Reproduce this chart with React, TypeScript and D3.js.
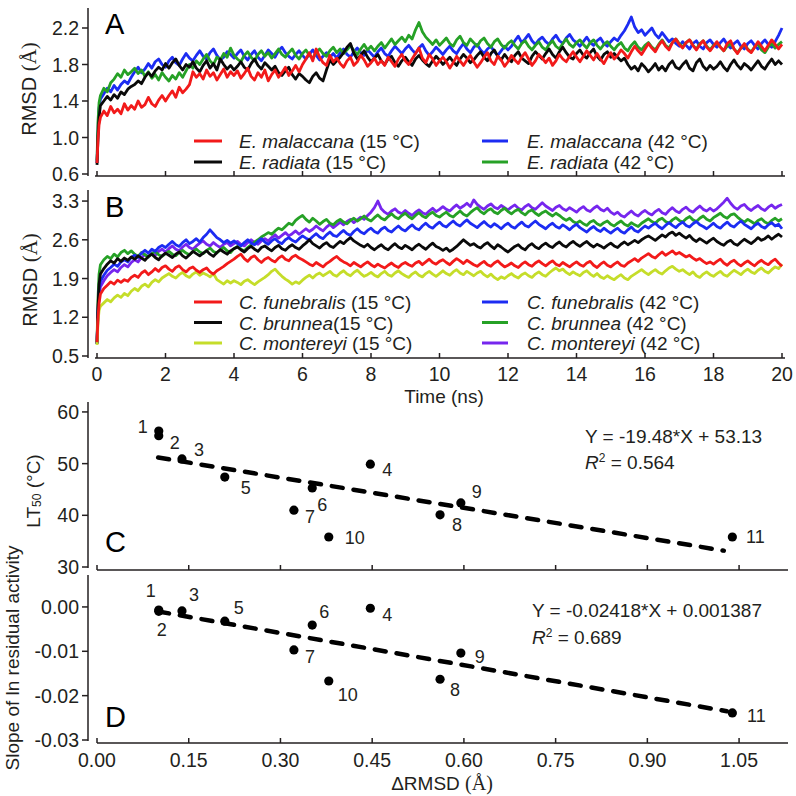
import React from 'react';
import * as d3 from 'd3';

// ---------- DATA ----------
const TIME = [0, 0.03, 0.06,
  0.1, 0.2, 0.3, 0.4, 0.5, 0.6, 0.7, 0.8, 0.9, 1.0,
  1.1, 1.2, 1.3, 1.4, 1.5, 1.6, 1.7, 1.8, 1.9, 2.0,
  2.1, 2.2, 2.3, 2.4, 2.5, 2.6, 2.7, 2.8, 2.9, 3.0,
  3.1, 3.2, 3.3, 3.4, 3.5, 3.6, 3.7, 3.8, 3.9, 4.0,
  4.1, 4.2, 4.3, 4.4, 4.5, 4.6, 4.7, 4.8, 4.9, 5.0,
  5.1, 5.2, 5.3, 5.4, 5.5, 5.6, 5.7, 5.8, 5.9, 6.0,
  6.1, 6.2, 6.3, 6.4, 6.5, 6.6, 6.7, 6.8, 6.9, 7.0,
  7.1, 7.2, 7.3, 7.4, 7.5, 7.6, 7.7, 7.8, 7.9, 8.0,
  8.1, 8.2, 8.3, 8.4, 8.5, 8.6, 8.7, 8.8, 8.9, 9.0,
  9.1, 9.2, 9.3, 9.4, 9.5, 9.6, 9.7, 9.8, 9.9, 10.0,
  10.1, 10.2, 10.3, 10.4, 10.5, 10.6, 10.7, 10.8, 10.9, 11.0,
  11.1, 11.2, 11.3, 11.4, 11.5, 11.6, 11.7, 11.8, 11.9, 12.0,
  12.1, 12.2, 12.3, 12.4, 12.5, 12.6, 12.7, 12.8, 12.9, 13.0,
  13.1, 13.2, 13.3, 13.4, 13.5, 13.6, 13.7, 13.8, 13.9, 14.0,
  14.1, 14.2, 14.3, 14.4, 14.5, 14.6, 14.7, 14.8, 14.9, 15.0,
  15.1, 15.2, 15.3, 15.4, 15.5, 15.6, 15.7, 15.8, 15.9, 16.0,
  16.1, 16.2, 16.3, 16.4, 16.5, 16.6, 16.7, 16.8, 16.9, 17.0,
  17.1, 17.2, 17.3, 17.4, 17.5, 17.6, 17.7, 17.8, 17.9, 18.0,
  18.1, 18.2, 18.3, 18.4, 18.5, 18.6, 18.7, 18.8, 18.9, 19.0,
  19.1, 19.2, 19.3, 19.4, 19.5, 19.6, 19.7, 19.8, 19.9, 20.0];

// Panel A
const A_MALACCANA_15 = [0.72, 0.98, 1.14,
  1.22, 1.29, 1.24, 1.34, 1.27, 1.31, 1.26, 1.37, 1.30, 1.35,
  1.31, 1.40, 1.33, 1.36, 1.44, 1.37, 1.34, 1.41, 1.46, 1.40,
  1.46, 1.51, 1.44, 1.55, 1.49, 1.53, 1.58, 1.72, 1.66, 1.70,
  1.64, 1.74, 1.67, 1.71, 1.63, 1.69, 1.75, 1.66, 1.72, 1.68,
  1.73, 1.65, 1.70, 1.76, 1.67, 1.63, 1.71, 1.66, 1.74, 1.62,
  1.69, 1.74, 1.66, 1.71, 1.77, 1.68, 1.73, 1.79, 1.72, 1.80,
  1.86, 1.93, 1.84, 1.97, 1.88, 1.82, 1.79, 1.90, 1.83, 1.87,
  1.81, 1.77, 1.84, 1.88, 1.79, 1.83, 1.90, 1.85, 1.78, 1.82,
  1.87, 1.80, 1.84, 1.79, 1.88, 1.83, 1.78, 1.86, 1.91, 1.84,
  1.80, 1.86, 1.92, 1.98, 1.87, 1.82, 1.91, 1.86, 1.79, 1.84,
  1.88, 1.83, 1.76, 1.82, 1.89, 1.84, 1.79, 1.85, 1.90, 1.83,
  1.77, 1.82, 1.88, 1.93, 1.84, 1.80, 1.89, 1.85, 1.78, 1.83,
  1.90, 1.85, 1.81, 1.88, 1.93, 1.86, 1.79, 1.84, 1.91, 1.87,
  1.82, 1.87, 1.79, 1.84, 1.91, 1.86, 1.83, 1.89, 1.94, 1.88,
  1.83, 1.89, 1.95, 1.90, 1.85, 1.92, 1.86, 1.81, 1.88, 1.93,
  1.86, 1.90, 1.96, 1.92, 1.87, 1.94, 2.00, 1.95, 1.91, 1.97,
  2.03, 1.98, 1.94, 2.01, 2.06, 2.00, 1.96, 2.04, 2.08, 2.02,
  1.98, 2.04, 2.07, 2.01, 1.96, 2.02, 2.06, 1.99, 1.95, 2.00,
  2.05, 1.99, 1.95, 2.03, 2.06, 1.97, 1.92, 1.98, 2.03, 1.96,
  1.93, 1.99, 2.05, 2.00, 1.95, 2.01, 2.07, 2.02, 1.97, 2.02];
const A_RADIATA_15 = [0.70, 1.02, 1.22,
  1.35, 1.40, 1.45, 1.41, 1.47, 1.43, 1.50, 1.47, 1.53, 1.56,
  1.58, 1.62, 1.59, 1.66, 1.71, 1.67, 1.73, 1.77, 1.74, 1.81,
  1.76, 1.82, 1.86, 1.79, 1.74, 1.80, 1.77, 1.83, 1.76, 1.72,
  1.79, 1.84, 1.76, 1.81, 1.74, 1.86, 1.80, 1.75, 1.79, 1.74,
  1.78, 1.83, 1.77, 1.74, 1.81, 1.86, 1.79, 1.75, 1.82, 1.78,
  1.74, 1.78, 1.71, 1.68, 1.73, 1.77, 1.69, 1.64, 1.70, 1.67,
  1.63, 1.60, 1.67, 1.71, 1.65, 1.62, 1.74, 1.85, 1.80, 1.84,
  1.88, 1.93, 1.99, 2.03, 1.92, 1.86, 1.90, 1.95, 1.88, 1.83,
  1.87, 1.91, 1.84, 1.80, 1.86, 1.89, 1.82, 1.78, 1.84, 1.88,
  1.83, 1.79, 1.86, 1.90, 1.85, 1.81, 1.78, 1.84, 1.89, 1.85,
  1.80, 1.84, 1.88, 1.83, 1.79, 1.86, 1.91, 1.87, 1.82, 1.85,
  1.90, 1.94, 1.88, 1.84, 1.92, 1.96, 1.89, 1.85, 1.91, 1.86,
  1.83, 1.90, 1.94, 1.87, 1.84, 1.81, 1.89, 1.94, 1.90, 1.86,
  1.92, 1.97, 1.91, 1.87, 1.94, 1.99, 1.93, 1.88, 1.86, 1.92,
  1.96, 1.90, 1.87, 1.93, 1.97, 1.89, 1.85, 1.91, 1.94, 1.88,
  1.92, 1.88, 1.84, 1.87, 1.80, 1.75, 1.78, 1.73, 1.81, 1.77,
  1.72, 1.76, 1.81, 1.74, 1.78, 1.73, 1.80, 1.84, 1.77, 1.75,
  1.80, 1.84, 1.76, 1.73, 1.82, 1.86, 1.78, 1.74, 1.79, 1.75,
  1.78, 1.83, 1.77, 1.73, 1.80, 1.85, 1.79, 1.75, 1.81, 1.78,
  1.74, 1.79, 1.84, 1.78, 1.75, 1.81, 1.86, 1.80, 1.84, 1.80];
const A_MALACCANA_42 = [0.72, 1.10, 1.32,
  1.42, 1.48, 1.54, 1.50, 1.57, 1.52, 1.58, 1.62, 1.59, 1.66,
  1.72, 1.77, 1.71, 1.75, 1.81, 1.76, 1.83, 1.86, 1.80, 1.77,
  1.84, 1.88, 1.82, 1.79, 1.86, 1.92, 1.87, 1.84, 1.90, 1.95,
  1.89, 1.86, 1.93, 1.97, 1.90, 1.85, 1.88, 1.94, 1.91, 1.87,
  1.92, 1.96, 1.89, 1.85, 1.91, 1.95, 1.88, 1.84, 1.90, 1.96,
  1.92, 1.88, 1.95, 1.99, 1.93, 1.89, 1.86, 1.91, 1.95, 1.90,
  1.86, 1.91, 1.96, 1.90, 1.85, 1.89, 1.93, 1.88, 1.92, 1.87,
  1.93, 1.97, 1.91, 1.88, 1.94, 1.98, 1.93, 1.90, 1.96, 1.92,
  1.88, 1.94, 1.98, 1.92, 1.89, 1.95, 2.00, 1.96, 1.92, 1.97,
  2.01, 1.96, 1.92, 1.98, 2.02, 1.95, 1.90, 1.94, 1.99, 1.95,
  1.91, 1.96, 2.00, 1.95, 1.92, 1.98, 2.03, 1.97, 1.93, 1.99,
  2.02, 1.96, 1.92, 1.97, 2.00, 1.94, 1.90, 1.95, 2.00, 1.96,
  2.00, 2.06, 2.11, 2.04, 2.08, 2.13, 2.06, 2.02, 2.07, 2.10,
  2.05, 2.02, 2.08, 2.12, 2.06, 2.03, 2.09, 2.13, 2.07, 2.04,
  2.00, 2.05, 2.10, 2.04, 2.01, 2.06, 2.09, 2.03, 2.00, 2.05,
  2.09, 2.06, 2.12, 2.17, 2.24, 2.32, 2.21, 2.15, 2.18, 2.12,
  2.16, 2.20, 2.13, 2.09, 2.15, 2.10, 2.05, 2.08, 2.03, 2.00,
  2.05, 2.01, 1.97, 2.03, 2.06, 2.00, 1.97, 2.04, 2.07, 2.02,
  1.99, 2.04, 2.08, 2.02, 1.98, 2.03, 2.06, 2.00, 1.97, 2.03,
  2.06, 2.01, 1.97, 2.03, 2.07, 2.02, 1.99, 2.05, 2.12, 2.20];
const A_RADIATA_42 = [0.75, 1.18, 1.38,
  1.46, 1.54, 1.50, 1.60, 1.64, 1.70, 1.66, 1.74, 1.69, 1.72,
  1.76, 1.70, 1.74, 1.67, 1.72, 1.65, 1.69, 1.63, 1.71, 1.66,
  1.62, 1.68, 1.64, 1.71, 1.66, 1.73, 1.80, 1.76, 1.84, 1.80,
  1.86, 1.91, 1.84, 1.80, 1.88, 1.85, 1.92, 1.88, 1.98, 1.90,
  1.86, 1.83, 1.90, 1.94, 1.88, 1.84, 1.91, 1.95, 1.89, 1.93,
  1.87, 1.92, 1.97, 1.91, 1.88, 1.93, 1.97, 1.90, 1.86, 1.92,
  1.96, 1.90, 1.87, 1.93, 1.97, 1.92, 1.89, 1.95, 1.99, 1.93,
  1.97, 1.92, 1.96, 2.01, 1.95, 1.91, 1.97, 2.02, 1.96, 2.00,
  1.95, 2.00, 2.04, 1.98, 2.03, 2.08, 2.02, 2.06, 2.10, 2.05,
  2.12, 2.08, 2.18, 2.26, 2.16, 2.10, 2.06, 2.02, 2.07, 2.01,
  2.05, 2.09, 2.03, 2.00, 2.07, 2.11, 2.04, 2.01, 2.08, 2.04,
  2.00, 2.06, 2.09, 2.03, 1.99, 2.05, 2.08, 2.02, 1.98, 2.03,
  2.06, 2.01, 1.97, 2.03, 2.06, 2.00, 1.96, 2.01, 2.05, 1.99,
  1.96, 2.02, 2.06, 2.00, 1.97, 2.03, 2.08, 2.02, 1.99, 2.04,
  2.07, 2.02, 1.98, 2.04, 2.07, 2.01, 1.97, 2.02, 2.05, 2.00,
  1.96, 2.01, 2.04, 1.98, 1.95, 2.01, 2.05, 1.99, 1.96, 2.01,
  2.04, 1.99, 1.96, 2.02, 2.07, 2.01, 1.98, 2.04, 2.08, 2.03,
  1.99, 2.04, 2.07, 2.01, 1.97, 2.03, 2.06, 2.00, 1.96, 2.01,
  2.04, 1.99, 1.95, 2.00, 2.03, 1.97, 1.93, 1.98, 2.02, 1.97,
  1.94, 1.99, 2.03, 1.96, 1.93, 1.99, 2.03, 1.98, 2.02, 2.05];

// Panel B
const B_FUNEBRALIS_15 = [0.75, 1.20, 1.45,
  1.62, 1.72, 1.78, 1.84, 1.80, 1.87, 1.83, 1.88, 1.85, 1.92,
  1.96, 1.92, 2.00, 2.04, 1.97, 2.02, 2.08, 2.03, 2.10, 2.13,
  2.07, 2.03, 2.10, 2.13, 2.06, 2.02, 2.08, 2.11, 2.05, 2.01,
  2.06, 2.09, 2.02, 1.98, 2.04, 2.08, 2.12, 2.17, 2.21, 2.25,
  2.30, 2.34, 2.26, 2.21, 2.28, 2.31, 2.24, 2.19, 2.25, 2.28,
  2.23, 2.20, 2.27, 2.31, 2.25, 2.22, 2.29, 2.32, 2.27, 2.24,
  2.20, 2.16, 2.13, 2.19, 2.15, 2.11, 2.17, 2.21, 2.26, 2.30,
  2.24, 2.20, 2.17, 2.13, 2.19, 2.15, 2.11, 2.16, 2.20, 2.15,
  2.11, 2.16, 2.12, 2.09, 2.14, 2.18, 2.13, 2.10, 2.16, 2.19,
  2.15, 2.12, 2.18, 2.21, 2.15, 2.20, 2.25, 2.19, 2.16, 2.21,
  2.24, 2.19, 2.15, 2.21, 2.26, 2.22, 2.17, 2.23, 2.19, 2.15,
  2.12, 2.17, 2.21, 2.15, 2.12, 2.18, 2.22, 2.16, 2.11, 2.14,
  2.18, 2.13, 2.10, 2.16, 2.20, 2.15, 2.12, 2.18, 2.22, 2.17,
  2.13, 2.18, 2.22, 2.16, 2.13, 2.19, 2.15, 2.11, 2.16, 2.20,
  2.15, 2.12, 2.18, 2.21, 2.14, 2.10, 2.16, 2.20, 2.14, 2.11,
  2.16, 2.20, 2.14, 2.12, 2.18, 2.22, 2.26, 2.21, 2.27, 2.31,
  2.35, 2.30, 2.27, 2.33, 2.38, 2.32, 2.36, 2.40, 2.34, 2.37,
  2.33, 2.29, 2.32, 2.27, 2.23, 2.26, 2.21, 2.17, 2.20, 2.16,
  2.21, 2.25, 2.18, 2.14, 2.20, 2.23, 2.17, 2.13, 2.18, 2.22,
  2.17, 2.13, 2.19, 2.23, 2.18, 2.15, 2.21, 2.25, 2.18, 2.12];
const B_BRUNNEA_15 = [0.72, 1.40, 1.80,
  1.98, 2.08, 2.16, 2.22, 2.18, 2.26, 2.21, 2.27, 2.23, 2.29,
  2.25, 2.31, 2.27, 2.23, 2.30, 2.34, 2.28, 2.24, 2.31, 2.36,
  2.32, 2.28, 2.34, 2.38, 2.31, 2.27, 2.33, 2.39, 2.35, 2.31,
  2.36, 2.40, 2.34, 2.30, 2.37, 2.42, 2.38, 2.34, 2.40, 2.44,
  2.47, 2.42, 2.38, 2.44, 2.48, 2.43, 2.39, 2.46, 2.49, 2.44,
  2.40, 2.46, 2.50, 2.44, 2.41, 2.47, 2.51, 2.46, 2.43, 2.49,
  2.54, 2.60, 2.53, 2.49, 2.45, 2.51, 2.55, 2.49, 2.46, 2.52,
  2.57, 2.53, 2.59, 2.64, 2.58, 2.54, 2.50, 2.47, 2.52, 2.46,
  2.42, 2.47, 2.51, 2.45, 2.42, 2.48, 2.53, 2.47, 2.44, 2.50,
  2.46, 2.42, 2.48, 2.52, 2.47, 2.43, 2.49, 2.54, 2.48, 2.45,
  2.41, 2.45, 2.39, 2.43, 2.48, 2.54, 2.60, 2.55, 2.50, 2.53,
  2.48, 2.45, 2.51, 2.55, 2.49, 2.44, 2.51, 2.47, 2.42, 2.38,
  2.43, 2.48, 2.51, 2.45, 2.42, 2.49, 2.53, 2.47, 2.44, 2.50,
  2.54, 2.49, 2.46, 2.52, 2.56, 2.50, 2.47, 2.53, 2.57, 2.52,
  2.48, 2.53, 2.57, 2.51, 2.47, 2.52, 2.49, 2.45, 2.50, 2.54,
  2.49, 2.46, 2.52, 2.56, 2.51, 2.55, 2.59, 2.55, 2.60, 2.64,
  2.67, 2.63, 2.59, 2.64, 2.69, 2.65, 2.71, 2.74, 2.68, 2.72,
  2.67, 2.63, 2.68, 2.61, 2.57, 2.62, 2.58, 2.54, 2.59, 2.63,
  2.57, 2.53, 2.50, 2.56, 2.59, 2.53, 2.50, 2.56, 2.61, 2.57,
  2.53, 2.58, 2.64, 2.59, 2.62, 2.67, 2.61, 2.66, 2.70, 2.65];
const B_MONTEREYI_15 = [0.70, 1.12, 1.32,
  1.40, 1.46, 1.52, 1.48, 1.55, 1.60, 1.56, 1.63, 1.59, 1.67,
  1.72, 1.68, 1.76, 1.80, 1.75, 1.83, 1.88, 1.84, 1.91, 1.95,
  1.99, 1.94, 1.91, 1.97, 2.01, 1.95, 1.92, 1.98, 2.02, 1.96,
  2.00, 1.97, 1.93, 1.99, 1.88, 1.84, 1.80, 1.86, 1.82, 1.86,
  1.83, 1.79, 1.85, 1.88, 1.83, 1.79, 1.84, 1.88, 1.92, 1.97,
  2.03, 2.07, 2.00, 1.94, 1.89, 1.85, 1.80, 1.84, 1.81, 1.87,
  1.92, 1.96, 1.91, 1.97, 2.00, 1.95, 1.99, 2.03, 1.97, 1.94,
  2.00, 2.04, 1.98, 1.95, 2.01, 2.05, 1.99, 1.94, 1.97, 2.01,
  1.96, 1.93, 1.99, 2.03, 1.97, 1.94, 2.00, 2.04, 1.99, 1.95,
  1.92, 1.98, 2.02, 1.96, 1.93, 1.99, 2.03, 1.98, 1.94, 1.99,
  2.04, 1.99, 1.96, 2.02, 2.06, 2.00, 1.97, 2.03, 1.99, 1.95,
  2.00, 2.03, 1.97, 1.93, 1.98, 1.92, 1.88, 1.93, 1.90, 1.95,
  1.99, 1.94, 1.91, 1.97, 2.00, 1.95, 1.92, 1.98, 2.02, 1.97,
  1.94, 2.00, 2.05, 2.09, 2.04, 2.07, 2.01, 1.97, 2.02, 1.98,
  1.95, 2.01, 2.04, 1.98, 1.94, 1.99, 1.93, 1.90, 1.95, 1.91,
  1.88, 1.93, 1.97, 1.91, 1.88, 1.94, 1.98, 2.02, 2.06, 2.01,
  1.97, 2.02, 2.06, 2.01, 1.98, 2.04, 2.09, 2.12, 2.07, 2.03,
  2.06, 2.01, 1.97, 2.02, 1.95, 1.92, 1.98, 2.02, 1.97, 1.94,
  1.99, 2.03, 1.97, 1.94, 2.00, 2.05, 2.01, 1.97, 2.03, 2.07,
  2.02, 1.99, 2.05, 2.09, 2.03, 2.00, 2.06, 2.11, 2.08, 2.16];
const B_FUNEBRALIS_42 = [0.72, 1.35, 1.68,
  1.85, 1.96, 2.05, 2.10, 2.16, 2.12, 2.20, 2.24, 2.20, 2.28,
  2.32, 2.28, 2.36, 2.41, 2.36, 2.43, 2.39, 2.46, 2.50, 2.46,
  2.52, 2.57, 2.51, 2.48, 2.55, 2.60, 2.53, 2.57, 2.62, 2.56,
  2.64, 2.70, 2.78, 2.71, 2.64, 2.60, 2.55, 2.59, 2.54, 2.58,
  2.53, 2.49, 2.55, 2.60, 2.54, 2.51, 2.57, 2.62, 2.56, 2.52,
  2.58, 2.62, 2.56, 2.53, 2.60, 2.64, 2.59, 2.56, 2.62, 2.67,
  2.63, 2.60, 2.66, 2.71, 2.65, 2.62, 2.69, 2.74, 2.68, 2.66,
  2.72, 2.77, 2.71, 2.68, 2.75, 2.80, 2.74, 2.71, 2.77, 2.81,
  2.75, 2.72, 2.79, 2.83, 2.77, 2.74, 2.80, 2.85, 2.79, 2.76,
  2.82, 2.87, 2.81, 2.78, 2.85, 2.90, 2.84, 2.81, 2.87, 2.92,
  2.86, 2.83, 2.89, 2.94, 2.88, 2.85, 2.91, 2.96, 2.90, 2.86,
  2.82, 2.88, 2.93, 2.87, 2.83, 2.89, 2.85, 2.80, 2.86, 2.90,
  2.84, 2.81, 2.87, 2.92, 2.86, 2.83, 2.89, 2.94, 2.88, 2.84,
  2.80, 2.86, 2.90, 2.84, 2.81, 2.87, 2.83, 2.78, 2.84, 2.88,
  2.82, 2.78, 2.74, 2.80, 2.84, 2.78, 2.75, 2.81, 2.76, 2.72,
  2.77, 2.81, 2.75, 2.72, 2.78, 2.83, 2.77, 2.74, 2.80, 2.85,
  2.81, 2.86, 2.90, 2.84, 2.80, 2.86, 2.91, 2.86, 2.82, 2.88,
  2.92, 2.86, 2.83, 2.89, 2.93, 2.87, 2.84, 2.80, 2.85, 2.90,
  2.84, 2.81, 2.87, 2.92, 2.86, 2.83, 2.89, 2.94, 2.88, 2.84,
  2.80, 2.86, 2.90, 2.84, 2.81, 2.87, 2.91, 2.85, 2.88, 2.80];
const B_BRUNNEA_42 = [0.75, 1.55, 1.98,
  2.15, 2.24, 2.30, 2.26, 2.34, 2.29, 2.37, 2.41, 2.35, 2.40,
  2.34, 2.30, 2.37, 2.33, 2.29, 2.35, 2.39, 2.33, 2.30, 2.35,
  2.39, 2.34, 2.31, 2.37, 2.41, 2.36, 2.33, 2.39, 2.43, 2.38,
  2.35, 2.41, 2.45, 2.39, 2.36, 2.42, 2.46, 2.40, 2.37, 2.44,
  2.48, 2.43, 2.40, 2.46, 2.51, 2.56, 2.60, 2.65, 2.69, 2.73,
  2.70, 2.76, 2.81, 2.78, 2.84, 2.90, 2.87, 2.95, 3.00, 3.04,
  2.97, 2.92, 2.99, 2.94, 2.88, 2.93, 2.97, 2.90, 2.87, 2.93,
  2.97, 2.92, 2.89, 2.95, 2.99, 2.94, 2.98, 3.03, 2.97, 2.94,
  3.00, 3.05, 2.99, 2.96, 3.02, 3.07, 3.01, 2.98, 3.04, 3.08,
  3.02, 2.98, 3.04, 3.09, 3.03, 3.00, 3.06, 3.10, 3.04, 3.01,
  3.06, 3.10, 3.04, 3.01, 3.07, 3.12, 3.06, 3.03, 3.09, 3.14,
  3.18, 3.11, 3.07, 3.13, 3.16, 3.10, 3.07, 3.13, 3.17, 3.11,
  3.07, 3.12, 3.15, 3.09, 3.05, 3.11, 3.14, 3.08, 3.04, 3.09,
  3.12, 3.07, 3.03, 3.08, 3.04, 2.99, 2.95, 2.99, 2.93, 2.90,
  2.94, 2.89, 2.86, 2.92, 2.95, 2.89, 2.86, 2.91, 2.94, 2.88,
  2.85, 2.90, 2.94, 2.88, 2.85, 2.91, 2.87, 2.84, 2.90, 2.94,
  2.98, 2.93, 2.90, 2.96, 2.99, 2.93, 2.90, 2.96, 3.00, 2.95,
  2.92, 2.98, 3.02, 2.96, 2.93, 2.99, 3.03, 2.97, 2.94, 3.00,
  3.04, 3.08, 3.02, 2.99, 3.05, 3.07, 3.01, 2.96, 2.92, 2.97,
  2.93, 2.89, 2.95, 2.98, 2.92, 2.89, 2.95, 2.99, 2.94, 2.98];
const B_MONTEREYI_42 = [0.72, 1.28, 1.58,
  1.75, 1.86, 1.95, 2.01, 2.06, 2.02, 2.10, 2.15, 2.11, 2.19,
  2.24, 2.20, 2.28, 2.33, 2.29, 2.36, 2.32, 2.39, 2.43, 2.38,
  2.44, 2.49, 2.43, 2.40, 2.47, 2.52, 2.46, 2.43, 2.49, 2.54,
  2.58, 2.52, 2.49, 2.55, 2.50, 2.46, 2.52, 2.55, 2.49, 2.53,
  2.57, 2.52, 2.49, 2.55, 2.60, 2.55, 2.52, 2.58, 2.62, 2.58,
  2.64, 2.69, 2.63, 2.68, 2.73, 2.67, 2.71, 2.76, 2.70, 2.75,
  2.80, 2.75, 2.79, 2.85, 2.80, 2.76, 2.83, 2.88, 2.82, 2.87,
  2.92, 2.87, 2.93, 2.97, 2.91, 2.96, 3.01, 2.97, 3.04, 3.10,
  3.18, 3.30, 3.16, 3.10, 3.06, 3.12, 3.16, 3.10, 3.07, 3.13,
  3.08, 3.04, 3.10, 3.14, 3.09, 3.06, 3.12, 3.17, 3.11, 3.15,
  3.20, 3.15, 3.12, 3.18, 3.23, 3.17, 3.21, 3.26, 3.20, 3.32,
  3.24, 3.19, 3.15, 3.21, 3.25, 3.19, 3.16, 3.22, 3.18, 3.14,
  3.19, 3.23, 3.17, 3.14, 3.20, 3.24, 3.18, 3.15, 3.21, 3.27,
  3.21, 3.17, 3.13, 3.19, 3.22, 3.16, 3.13, 3.18, 3.14, 3.10,
  3.16, 3.20, 3.14, 3.11, 3.17, 3.21, 3.15, 3.12, 3.17, 3.10,
  3.06, 3.10, 3.04, 3.01, 3.07, 3.12, 3.06, 3.03, 3.09, 3.13,
  3.08, 3.05, 3.11, 3.15, 3.09, 3.06, 3.13, 3.18, 3.12, 3.09,
  3.15, 3.19, 3.13, 3.10, 3.16, 3.21, 3.15, 3.12, 3.17, 3.12,
  3.16, 3.22, 3.28, 3.35, 3.26, 3.19, 3.15, 3.21, 3.24, 3.17,
  3.13, 3.18, 3.22, 3.16, 3.13, 3.19, 3.23, 3.17, 3.21, 3.24];

const A_TICKS = [0.6, 1.0, 1.4, 1.8, 2.2];
const B_TICKS = [0.5, 1.2, 1.9, 2.6, 3.3];
const TIME_TICKS = [0, 2, 4, 6, 8, 10, 12, 14, 16, 18, 20];

// Panels C and D
const POINT_IDS = ['1', '2', '3', '4', '5', '6', '7', '8', '9', '10', '11'];
const DELTA_RMSD = [0.101, 0.101, 0.139, 0.447, 0.209, 0.352, 0.322, 0.561, 0.595, 0.379, 1.039];
const LT50 = [56.3, 55.4, 50.9, 49.9, 47.4, 45.3, 41.0, 40.1, 42.4, 35.8, 35.8];
const SLOPE_LN = [-0.0007, -0.0010, -0.0009, -0.0003, -0.0032, -0.0041, -0.0097, -0.0163, -0.0104, -0.0167, -0.0239];
const C_TICKS = [30, 40, 50, 60];
const D_TICKS = [-0.03, -0.02, -0.01, 0.0];
const DRMSD_TICKS = [0, 0.15, 0.3, 0.45, 0.6, 0.75, 0.9, 1.05];
const FIT_C = { slope: -19.48, intercept: 53.13, x0: 0.1, x1: 1.025 };
const FIT_D = { slope: -0.02418, intercept: 0.001387, x0: 0.1, x1: 1.03 };

// ---------- LAYOUT / STYLE ----------
const FONT = '"Liberation Sans", Arial, sans-serif';
const SERIF = '"Liberation Serif", "Times New Roman", serif';
const AX = '#231f20';
const COL = {
  red: '#f21a1a', black: '#0a0a0a', blue: '#1c2cf2', green: '#26a126',
  purple: '#7626ee', yellow: '#c5dd2a',
};
const LABEL_OFF_C: [number, number][] = [[-16, -4], [16, 7], [17, -9], [17, 6], [21, 11], [10, 17], [16, 7], [17, 10], [16, -11], [26, 1], [23, 0]];
const LABEL_OFF_D: [number, number][] = [[-8, -19], [3, 19], [12, -16], [17, 7], [14, -13], [12, -13], [16, 7], [15, 11], [19, 4], [19, 14], [24, 3]];

const xTime = d3.scaleLinear().domain([0, 20]).range([97, 782]);
const yA = d3.scaleLinear().domain([0.6, 2.4]).range([174, 9.75]);
const yB = d3.scaleLinear().domain([0.5, 3.5]).range([356, 190]);
const xD = d3.scaleLinear().domain([0, 1.13]).range([97, 788]);
const yC = d3.scaleLinear().domain([30, 62]).range([567, 401.6]);
const yD = d3.scaleLinear().domain([-0.03, 0.0072]).range([740, 575]);

type Series = { name: string; temp: string; color: string; values: number[] };

const SERIES_A: Series[] = [
  { name: 'E. malaccana', temp: ' (42 °C)', color: COL.blue, values: A_MALACCANA_42 },
  { name: 'E. radiata', temp: ' (42 °C)', color: COL.green, values: A_RADIATA_42 },
  { name: 'E. radiata', temp: ' (15 °C)', color: COL.black, values: A_RADIATA_15 },
  { name: 'E. malaccana', temp: ' (15 °C)', color: COL.red, values: A_MALACCANA_15 },
];
const SERIES_B: Series[] = [
  { name: 'C. montereyi', temp: ' (42 °C)', color: COL.purple, values: B_MONTEREYI_42 },
  { name: 'C. brunnea', temp: ' (42 °C)', color: COL.green, values: B_BRUNNEA_42 },
  { name: 'C. funebralis', temp: ' (42 °C)', color: COL.blue, values: B_FUNEBRALIS_42 },
  { name: 'C. brunnea', temp: '(15 °C)', color: COL.black, values: B_BRUNNEA_15 },
  { name: 'C. montereyi', temp: ' (15 °C)', color: COL.yellow, values: B_MONTEREYI_15 },
  { name: 'C. funebralis', temp: ' (15 °C)', color: COL.red, values: B_FUNEBRALIS_15 },
];

const LEGEND_A = [
  { s: SERIES_A[3], col: 0, row: 0 }, { s: SERIES_A[2], col: 0, row: 1 },
  { s: SERIES_A[0], col: 1, row: 0 }, { s: SERIES_A[1], col: 1, row: 1 },
];
const LEGEND_B = [
  { s: SERIES_B[5], col: 0, row: 0 }, { s: SERIES_B[3], col: 0, row: 1 }, { s: SERIES_B[4], col: 0, row: 2 },
  { s: SERIES_B[2], col: 1, row: 0 }, { s: SERIES_B[1], col: 1, row: 1 }, { s: SERIES_B[0], col: 1, row: 2 },
];

function Traces({ series, y }: { series: Series[]; y: d3.ScaleLinear<number, number> }) {
  const line = d3.line<[number, number]>().x(d => xTime(d[0])).y(d => y(d[1]));
  return (
    <g>
      {series.map((s, i) => {
        const n = Math.min(TIME.length, s.values.length);
        const pts: [number, number][] = [];
        for (let k = 0; k < n; k++) pts.push([TIME[k], s.values[k]]);
        return <path key={i} d={line(pts) || ''} fill="none" stroke={s.color} strokeWidth={2.8} strokeLinejoin="round" />;
      })}
    </g>
  );
}

function Legend({ items, top, rowH }: { items: { s: Series; col: number; row: number }[]; top: number; rowH: number }) {
  const lineX = [[194, 222], [482, 508]];
  const textX = [239, 527];
  return (
    <g>
      {items.map((it, i) => {
        const yy = top + it.row * rowH;
        return (
          <g key={i}>
            <line x1={lineX[it.col][0]} x2={lineX[it.col][1]} y1={yy} y2={yy} stroke={it.s.color} strokeWidth={3} />
            <text x={textX[it.col]} y={yy} dominantBaseline="central" fontSize={19} fontFamily={FONT} fill={AX}>
              <tspan fontStyle="italic">{it.s.name}</tspan>
              <tspan>{it.s.temp}</tspan>
            </text>
          </g>
        );
      })}
    </g>
  );
}

function YAxis({ y, ticks, fmt, top, bottom }: { y: d3.ScaleLinear<number, number>; ticks: number[]; fmt: (v: number) => string; top: number; bottom: number }) {
  return (
    <g>
      <line x1={88} x2={88} y1={top} y2={bottom} stroke={AX} strokeWidth={1.5} />
      {ticks.map((t, i) => (
        <g key={i}>
          <line x1={82} x2={88} y1={y(t)} y2={y(t)} stroke={AX} strokeWidth={1.5} />
          <text x={79} y={y(t)} dominantBaseline="central" textAnchor="end" fontSize={19.5} fontFamily={FONT} fill={AX}>{fmt(t)}</text>
        </g>
      ))}
    </g>
  );
}

function XAxis({ x, ticks, yPos, x0, x1, labels, fmt, labelY }: { x: d3.ScaleLinear<number, number>; ticks: number[]; yPos: number; x0: number; x1: number; labels: boolean; fmt: (v: number) => string; labelY: number }) {
  return (
    <g>
      <line x1={x0} x2={x1} y1={yPos} y2={yPos} stroke={AX} strokeWidth={1.5} />
      {ticks.map((t, i) => (
        <g key={i}>
          <line x1={x(t)} x2={x(t)} y1={yPos} y2={yPos - 5} stroke={AX} strokeWidth={1.5} />
          {labels && <text x={x(t)} y={labelY} textAnchor="middle" fontSize={19.5} fontFamily={FONT} fill={AX}>{fmt(t)}</text>}
        </g>
      ))}
    </g>
  );
}

function Scatter({ ys, y, offs, fit }: { ys: number[]; y: d3.ScaleLinear<number, number>; offs: [number, number][]; fit: { slope: number; intercept: number; x0: number; x1: number } }) {
  const fitLine = d3.line<number>().x(v => xD(v)).y(v => y(fit.slope * v + fit.intercept));
  return (
    <g>
      <path d={fitLine([fit.x0, fit.x1]) || ''} stroke="#000" strokeWidth={4.5} strokeDasharray="11 11" strokeLinecap="round" fill="none" />
      {ys.map((v, i) => (
        <g key={i}>
          <circle cx={xD(DELTA_RMSD[i])} cy={y(v)} r={4.6} fill="#000" />
          <text x={xD(DELTA_RMSD[i]) + offs[i][0]} y={y(v) + offs[i][1]} textAnchor="middle" dominantBaseline="central" fontSize={18} fontFamily={FONT} fill={AX}>{POINT_IDS[i]}</text>
        </g>
      ))}
    </g>
  );
}

export default function App() {
  const f1 = (v: number) => v.toFixed(1);
  const f2 = (v: number) => v.toFixed(2);
  const f0 = (v: number) => String(v);
  return (
    <svg width={796} height={796} style={{ position: 'absolute', left: 0, top: 0, background: '#fff' }} fontFamily={FONT}>
      <rect width={796} height={796} fill="#fff" />
      {/* Panel A */}
      <Traces series={SERIES_A} y={yA} />
      <YAxis y={yA} ticks={A_TICKS} fmt={f1} top={8} bottom={176} />
      <XAxis x={xTime} ticks={TIME_TICKS} yPos={176} x0={95} x1={785} labels={false} fmt={f0} labelY={0} />
      <Legend items={LEGEND_A} top={141} rowH={21} />
      <text x={105} y={34} fontSize={29} fontFamily={FONT} fill="#000">A</text>
      <text transform="translate(29,89) rotate(-90)" textAnchor="middle" dominantBaseline="central" fontSize={20} fill={AX}>
        <tspan fontFamily={FONT}>RMSD </tspan><tspan fontFamily={SERIF} fontSize={21}>(Å)</tspan>
      </text>

      {/* Panel B */}
      <Traces series={SERIES_B} y={yB} />
      <YAxis y={yB} ticks={B_TICKS} fmt={f1} top={190} bottom={358} />
      <XAxis x={xTime} ticks={TIME_TICKS} yPos={358} x0={95} x1={785} labels={true} fmt={f0} labelY={381} />
      <Legend items={LEGEND_B} top={302} rowH={20.5} />
      <text x={105} y={217} fontSize={29} fontFamily={FONT} fill="#000">B</text>
      <text transform="translate(30,280) rotate(-90)" textAnchor="middle" dominantBaseline="central" fontSize={20} fill={AX}>
        <tspan fontFamily={FONT}>RMSD </tspan><tspan fontFamily={SERIF} fontSize={21}>(Å)</tspan>
      </text>
      <text x={444} y={403} textAnchor="middle" fontSize={19} fontFamily={FONT} fill={AX}>Time (ns)</text>

      {/* Panel C */}
      <YAxis y={yC} ticks={C_TICKS} fmt={f0} top={402} bottom={568} />
      <XAxis x={xD} ticks={DRMSD_TICKS} yPos={570} x0={97} x1={788} labels={false} fmt={f2} labelY={0} />
      <Scatter ys={LT50} y={yC} offs={LABEL_OFF_C} fit={FIT_C} />
      <text x={105} y={552} fontSize={29} fontFamily={FONT} fill="#000">C</text>
      <text x={585} y={443} fontSize={19} fontFamily={FONT} fill={AX}>Y = -19.48*X + 53.13</text>
      <text x={585} y={469} fontSize={19} fontFamily={FONT} fill={AX}>
        <tspan fontStyle="italic">R</tspan><tspan fontSize={12} dy={-7}>2</tspan><tspan dy={7}> = 0.564</tspan>
      </text>
      <text transform="translate(33,491) rotate(-90)" textAnchor="middle" dominantBaseline="central" fontSize={19} fontFamily={FONT} fill={AX}>
        LT<tspan fontSize={12} dy={4}>50</tspan><tspan dy={-4}> (°C)</tspan>
      </text>

      {/* Panel D */}
      <YAxis y={yD} ticks={D_TICKS} fmt={f2} top={575} bottom={741} />
      <XAxis x={xD} ticks={DRMSD_TICKS} yPos={743} x0={97} x1={788} labels={true} fmt={f2} labelY={767} />
      <Scatter ys={SLOPE_LN} y={yD} offs={LABEL_OFF_D} fit={FIT_D} />
      <text x={105} y={727} fontSize={29} fontFamily={FONT} fill="#000">D</text>
      <text x={532} y={617} fontSize={19} fontFamily={FONT} fill={AX}>Y = -0.02418*X + 0.001387</text>
      <text x={532} y={644} fontSize={19} fontFamily={FONT} fill={AX}>
        <tspan fontStyle="italic">R</tspan><tspan fontSize={12} dy={-7}>2</tspan><tspan dy={7}> = 0.689</tspan>
      </text>
      <text transform="translate(12,658) rotate(-90)" textAnchor="middle" dominantBaseline="central" fontSize={19} fontFamily={FONT} fill={AX}>
        Slope of ln residual activity
      </text>
      <text x={442} y={790} textAnchor="middle" fontSize={19} fill={AX}>
        <tspan fontFamily={FONT}>ΔRMSD </tspan><tspan fontFamily={SERIF} fontSize={20}>(Å)</tspan>
      </text>
    </svg>
  );
}
